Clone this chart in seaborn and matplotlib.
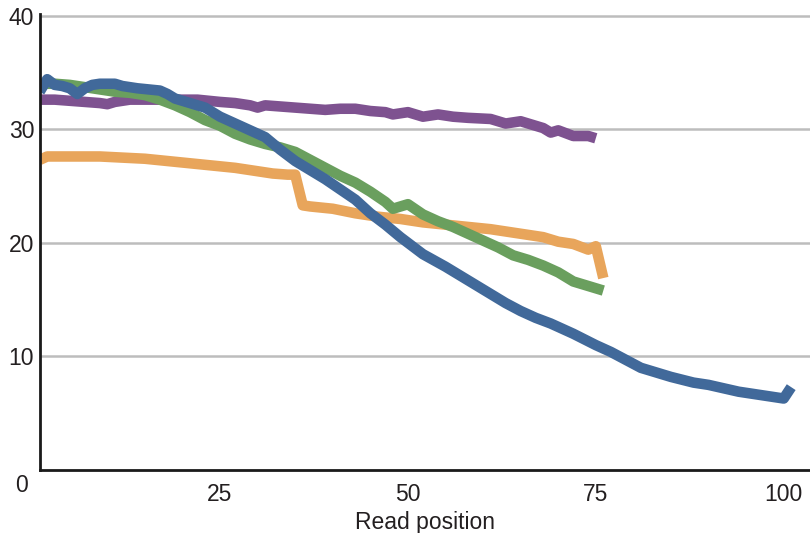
import matplotlib
matplotlib.use("Agg")
import matplotlib.pyplot as plt
import seaborn as sns
import pandas as pd

# Mean quality score by read position, four sequencing runs
purple_pos = [1, 3, 5, 7, 9, 10, 11, 13, 16, 19, 22, 25, 27, 29, 30, 31, 33, 35, 37, 39,
              41, 43, 45, 47, 48, 50, 52, 54, 56, 58, 61, 63, 65, 67, 68, 69, 70, 72, 74, 75]
purple_val = [32.6, 32.6, 32.5, 32.4, 32.3, 32.2, 32.4, 32.6, 32.6, 32.6, 32.6, 32.4, 32.3, 32.1,
              31.9, 32.1, 32.0, 31.9, 31.8, 31.7, 31.8, 31.8, 31.6, 31.5, 31.3, 31.5, 31.1, 31.3,
              31.1, 31.0, 30.9, 30.5, 30.7, 30.3, 30.1, 29.7, 29.9, 29.4, 29.4, 29.2]

orange_pos = [1, 2, 4, 6, 9, 12, 15, 18, 21, 24, 27, 30, 32, 34, 35, 36, 37, 40, 43, 46,
              49, 52, 55, 58, 61, 64, 67, 68, 70, 72, 74, 75, 76]
orange_val = [27.3, 27.6, 27.6, 27.6, 27.6, 27.5, 27.4, 27.2, 27.0, 26.8, 26.6, 26.3, 26.1,
              26.0, 26.0, 23.3, 23.2, 23.0, 22.6, 22.3, 22.1, 21.8, 21.6, 21.4, 21.2, 20.9,
              20.6, 20.5, 20.1, 19.9, 19.4, 19.7, 16.9]

green_pos = [1, 3, 5, 7, 9, 11, 13, 15, 17, 19, 21, 23, 25, 27, 29, 31, 33, 35, 37, 39,
             41, 43, 45, 47, 48, 50, 52, 54, 56, 58, 60, 62, 64, 66, 68, 70, 72, 74, 76]
green_val = [34.0, 34.0, 33.9, 33.7, 33.5, 33.3, 33.2, 33.0, 32.6, 32.1, 31.5, 30.8, 30.3,
             29.6, 29.1, 28.7, 28.4, 28.0, 27.3, 26.6, 25.9, 25.3, 24.5, 23.6, 23.0, 23.4,
             22.5, 21.9, 21.4, 20.8, 20.2, 19.6, 18.9, 18.5, 18.0, 17.4, 16.6, 16.2, 15.8]

blue_pos = [1, 2, 3, 4, 5, 6, 7, 8, 9, 11, 12, 14, 17, 18, 19, 21, 23, 25, 27, 29, 31, 33,
            35, 37, 39, 41, 43, 45, 47, 49, 51, 52, 55, 57, 59, 61, 63, 65, 67, 69, 71, 72,
            75, 77, 79, 81, 83, 85, 88, 90, 92, 94, 96, 98, 100, 101]
blue_val = [33.3, 34.4, 33.9, 33.8, 33.6, 33.1, 33.6, 33.9, 34.0, 34.0, 33.8, 33.6, 33.4,
            33.1, 32.7, 32.3, 31.9, 31.1, 30.5, 29.9, 29.3, 28.2, 27.2, 26.4, 25.6, 24.7,
            23.8, 22.6, 21.6, 20.5, 19.5, 19.0, 17.9, 17.1, 16.3, 15.5, 14.7, 14.0, 13.4,
            12.9, 12.3, 12.0, 11.0, 10.4, 9.7, 9.0, 8.6, 8.2, 7.7, 7.5, 7.2, 6.9, 6.7,
            6.5, 6.3, 7.3]

series_names = ["run_a", "run_b", "run_c", "run_d"]
series_colors = ["#7e5290", "#e8a55b", "#6a9f5e", "#41699a"]
x_ticks = [25, 50, 75, 100]
y_ticks = [10, 20, 30, 40]

frames = []
for name, pos, val in zip(series_names,
                          [purple_pos, orange_pos, green_pos, blue_pos],
                          [purple_val, orange_val, green_val, blue_val]):
    frames.append(pd.DataFrame({"position": pos, "quality": val, "run": name}))
df = pd.concat(frames, ignore_index=True)

sns.set_theme(style="white")
plt.rcParams["font.family"] = ["Liberation Sans", "DejaVu Sans"]
text_color = "#231f20"
font_size = 16.5

fig = plt.figure(figsize=(8.1, 5.33), dpi=100)
ax = fig.add_axes([0.049, 0.118, 0.951, 0.856])

sns.lineplot(data=df, x="position", y="quality", hue="run", hue_order=series_names,
             palette=dict(zip(series_names, series_colors)), linewidth=7.6,
             legend=False, errorbar=None, ax=ax, solid_capstyle="butt",
             solid_joinstyle="round")

ax.set_xlim(1, 103.5)
ax.set_ylim(0, 40.15)
ax.set_xticks(x_ticks)
ax.set_xticklabels([str(t) for t in x_ticks])
ax.set_yticks(y_ticks)
ax.set_yticklabels([str(t) for t in y_ticks])

ax.yaxis.grid(True, color="#bdbdbd", linewidth=1.8)
ax.xaxis.grid(False)
ax.set_axisbelow(True)

for side in ["top", "right"]:
    ax.spines[side].set_visible(False)
for side in ["left", "bottom"]:
    ax.spines[side].set_color("#1a1a1a")
    ax.spines[side].set_linewidth(2.0)

ax.tick_params(axis="x", direction="in", length=8, width=1.8, color="#1a1a1a",
               pad=9, labelsize=font_size, labelcolor=text_color)
ax.tick_params(axis="y", length=0, pad=4, labelsize=font_size, labelcolor=text_color)

ax.set_xlabel("Read position", fontsize=font_size, color=text_color, labelpad=4)
ax.set_ylabel("")

# Shared origin label at the corner
fig.text(22 / 810, 1 - 485 / 533, "0", ha="center", va="center",
         fontsize=font_size, color=text_color)

fig.savefig("out.png", dpi=100)
